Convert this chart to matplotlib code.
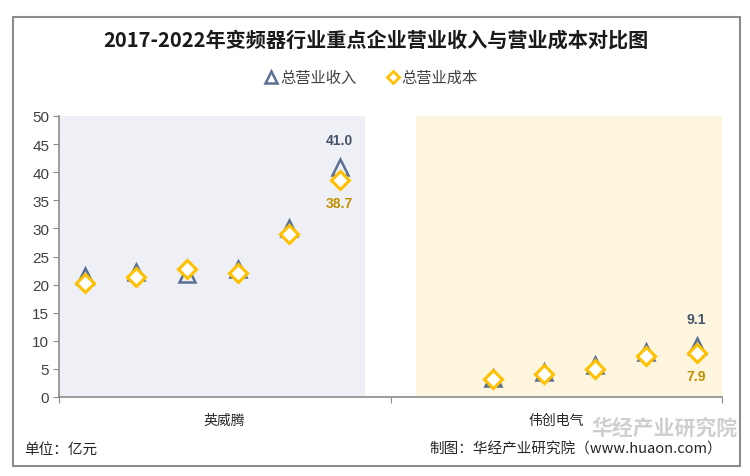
import matplotlib
matplotlib.use("Agg")
import matplotlib.pyplot as plt
from matplotlib.patches import Rectangle

plt.rcParams['font.family'] = ['Noto Sans CJK SC', 'DejaVu Sans']

companies = ["英威腾", "伟创电气"]
years = ["2017", "2018", "2019", "2020", "2021", "2022"]
revenue_ywt = [21.6, 22.3, 21.9, 22.7, 30.0, 41.0]
cost_ywt = [20.2, 21.4, 22.8, 22.1, 29.0, 38.7]
revenue_wc = [None, 3.3, 4.4, 5.7, 8.0, 9.1]
cost_wc = [None, 3.2, 4.1, 5.0, 7.3, 7.9]
yticks = [0, 5, 10, 15, 20, 25, 30, 35, 40, 45, 50]

fig = plt.figure(figsize=(7.5, 4.77), dpi=100)
fig.patches.append(Rectangle((13/750, 1-467/477), 727/750, 449/477, transform=fig.transFigure,
                             fill=False, edgecolor='#8c8c8c', linewidth=1.5))

ax = fig.add_axes([59/750, 1-398/477, 663/750, 281/477])
ax.set_xlim(0, 13)
ax.set_ylim(0, 50)

ax.axvspan(0, 6, ymin=0, ymax=1, color='#eff0f5', zorder=0, lw=0)
ax.axvspan(7, 13, ymin=0, ymax=1, color='#fef5de', zorder=0, lw=0)

tri_c = '#5b7194'
dia_c = '#ffc000'
groups = [(0, revenue_ywt, cost_ywt), (7, revenue_wc, cost_wc)]
for start, rev, cost in groups:
    xs_r = [start + i + 0.5 for i, v in enumerate(rev) if v is not None]
    vs_r = [v for v in rev if v is not None]
    xs_c = [start + i + 0.5 for i, v in enumerate(cost) if v is not None]
    vs_c = [v for v in cost if v is not None]
    ax.plot(xs_r, vs_r, linestyle='none', marker='^', markersize=12, markerfacecolor='none',
            markeredgecolor=tri_c, markeredgewidth=1.8, zorder=3)
    ax.plot(xs_c, vs_c, linestyle='none', marker='D', markersize=9.5, markerfacecolor='white',
            markeredgecolor=dia_c, markeredgewidth=2.2, zorder=4)
    ax.annotate(f"{vs_r[-1]:.1f}", (xs_r[-1], vs_r[-1]), xytext=(0, 14), textcoords='offset points',
                ha='center', va='bottom', fontsize=10, fontweight='bold', color='#44546a',
                family=['Liberation Sans', 'DejaVu Sans'])
    ax.annotate(f"{vs_c[-1]:.1f}", (xs_c[-1], vs_c[-1]), xytext=(0, -12), textcoords='offset points',
                ha='center', va='top', fontsize=10, fontweight='bold', color='#bf9000',
                family=['Liberation Sans', 'DejaVu Sans'])

for s in ['top', 'right']:
    ax.spines[s].set_visible(False)
for s in ['left', 'bottom']:
    ax.spines[s].set_color('#8c8c8c')
    ax.spines[s].set_linewidth(1.2)

ax.set_yticks(yticks)
ax.set_yticklabels([str(v) for v in yticks], fontsize=11, color='#404040',
                   family=['Liberation Sans', 'DejaVu Sans'])
ax.tick_params(axis='y', length=4, color='#8c8c8c', pad=3)
ax.set_xticks([0, 6.5, 13])
ax.set_xticklabels([])
ax.tick_params(axis='x', length=4, color='#8c8c8c')
for i, name in enumerate(companies):
    xc = 3.25 + i * 6.5
    ax.text(xc, -4.0, name, ha='center', va='center', fontsize=10, color='#262626')

# overlay axes in pixel coordinates for legend and texts
ax_l = fig.add_axes([0, 0, 1, 1], facecolor='none')
ax_l.set_axis_off()
ax_l.set_xlim(0, 750)
ax_l.set_ylim(477, 0)
ax_l.plot([271], [78], marker='^', markersize=8, markerfacecolor='none', markeredgecolor=tri_c,
          markeredgewidth=1.8)
ax_l.text(280, 78, '总营业收入', fontsize=11, color='#404040', va='center', ha='left')
ax_l.plot([393], [78], marker='D', markersize=6.5, markerfacecolor='white', markeredgecolor=dia_c,
          markeredgewidth=2)
ax_l.text(401, 78, '总营业成本', fontsize=11, color='#404040', va='center', ha='left')

ax_l.text(376, 40, '2017-2022年变频器行业重点企业营业收入与营业成本对比图', fontsize=14.5,
          color='#1a1a1a', ha='center', va='center', fontweight='bold')

ax_l.text(664, 428, '华经产业研究院', fontsize=15, color='#b0b0b0', alpha=0.6,
          ha='center', va='center', fontweight='bold')
ax_l.text(24, 450, '单位：亿元', fontsize=10.5, color='#262626', ha='left', va='center')
ax_l.text(722, 450, '制图：华经产业研究院（www.huaon.com）', fontsize=10.5, color='#262626',
          ha='right', va='center')

fig.savefig('out.png', dpi=100)
